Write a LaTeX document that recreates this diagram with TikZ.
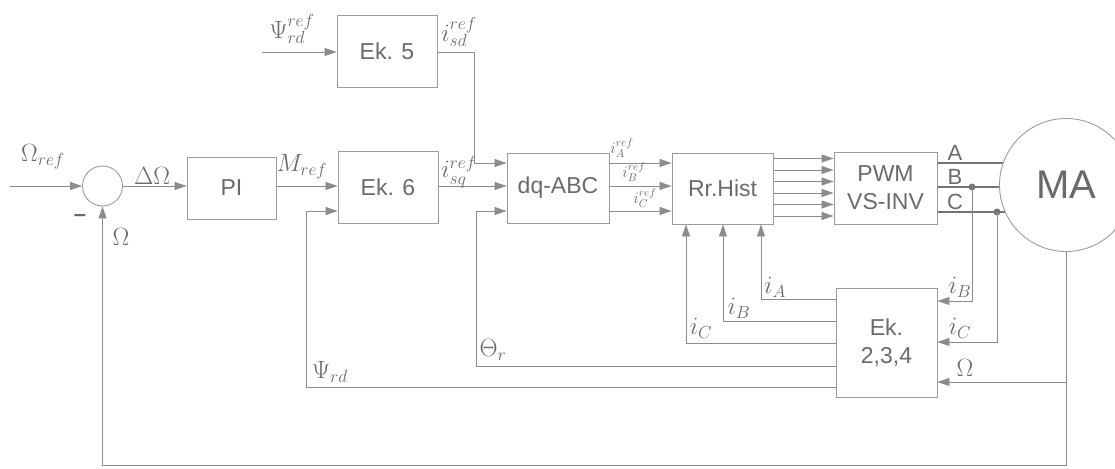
\RequirePackage{fix-cm}
\documentclass[tikz,border=0pt]{standalone}
\usepackage{fontspec}
\setmainfont{Liberation Sans}
\usetikzlibrary{arrows.meta,calc,backgrounds}
\definecolor{ln}{HTML}{8C8C8C}
\definecolor{tx}{HTML}{6A6A6A}
\definecolor{bx}{HTML}{9C9C9C}
\definecolor{ph}{HTML}{747474}
\begin{document}
\begin{tikzpicture}[x=1pt,y=-1pt,
  blk/.style={draw=bx,line width=0.9pt,text=tx,font=\fontsize{23}{28}\selectfont,inner sep=0pt,align=center},
  wire/.style={draw=ln,line width=0.8pt},
  arr/.style={wire,-{Triangle[length=12pt,width=8pt]}},
  lbl/.style={text=tx,font=\fontsize{25}{27}\selectfont,inner sep=0pt},
  sans/.style={text=tx,font=\fontsize{22}{24}\selectfont,inner sep=0pt},
  sml/.style={text=tx,font=\fontsize{16}{17}\selectfont,inner sep=0pt},
  dotn/.style={circle,fill=ph,inner sep=0pt,minimum size=7pt},
  phase/.style={draw=ph,line width=1.8pt}]
\useasboundingbox (0,0) rectangle (1115,468);
% blocks
\node[blk,minimum width=100pt,minimum height=72pt] (ek5) at (387,51) {Ek. 5};
\node[blk,minimum width=100pt,minimum height=72pt] (ek6) at (388,187) {Ek. 6};
\node[blk,minimum width=89pt,minimum height=62pt] (pi) at (231.5,188) {PI};
\node[draw=bx,line width=0.9pt,circle,minimum size=40pt,inner sep=0pt] (sum) at (102.5,186) {};
\node[blk,minimum width=102pt,minimum height=70pt] (dq) at (558,188) {dq-ABC};
\node[blk,minimum width=101pt,minimum height=71pt] (rr) at (722.5,188.5) {Rr.Hist};
\node[blk,minimum width=103pt,minimum height=72pt] (pwm) at (885.5,188) {PWM\\VS-INV};
\node[blk,minimum width=101pt,minimum height=109pt] (ek234) at (886.5,342.5) {Ek.\\2,3,4};
\node[blk,circle,minimum size=133pt,fill=white,font=\fontsize{40}{44}\selectfont] (ma) at (1066,185) {MA};
% free ends
\coordinate (psin) at (262,52);
\coordinate (omin) at (10,186);
% phase lines behind the motor
\begin{scope}[on background layer]
\foreach \y in {163,187,212} \draw[phase] (pwm.east|-0,\y) -- (ma.center|-0,\y);
\end{scope}
\node[dotn] (db) at (972,187) {};
\node[dotn] (dc) at (997,212) {};
% wires
\draw[arr] (psin) -- (psin -| ek5.west);
\draw[arr] (ek5.east |- psin) -- (474,52) -- (474,163) -- (dq.west |- 0,163);
\draw[arr] (omin) -- (sum.west);
\draw[arr] (sum.east) -- (pi.west |- sum.east);
\draw[arr] (pi.east |- sum.east) -- (ek6.west |- sum.east);
\draw[arr] (ek6.east |- sum.east) -- (dq.west |- sum.east);
\draw[arr] (ek234.west |- 0,387) -- (306,387) -- (306,211) -- (ek6.west |- 0,211);
\draw[arr] (ek234.west |- 0,366) -- (476,366) -- (476,211) -- (dq.west |- 0,211);
\foreach \y in {163,186,211} \draw[arr] (dq.east |- 0,\y) -- (rr.west |- 0,\y);
\foreach \y in {158.5,170,181.5,193,204.5,216} \draw[arr] (rr.east |- 0,\y) -- (pwm.west |- 0,\y);
\draw[arr] (db.center) -- (972,301) -- (ek234.east |- 0,301);
\draw[arr] (dc.center) -- (997,342) -- (ek234.east |- 0,342);
\draw[arr] (ma.south) -- (ma.south |- 0,465) -- (sum.south |- 0,465) -- (sum.south);
\draw[arr] (ma.south |- 0,382) -- (ek234.east |- 0,382);
\draw[arr] (ek234.west |- 0,299) -- (761,299) -- (rr.south -| 761,0);
\draw[arr] (ek234.west |- 0,321) -- (723,321) -- (rr.south -| 723,0);
\draw[arr] (ek234.west |- 0,343) -- (686,343) -- (rr.south -| 686,0);
% labels
\node[lbl] (lpsiref) at (292,29) {$\Psi^{ref}_{rd}$};
\node[lbl] (lisd) at (459,32) {$i^{ref}_{sd}$};
\node[lbl] (lomref) at (43,157) {$\Omega_{ref}$};
\node[sans] (lminus) at (80,218) {\textbf{–}};
\node[lbl] (lom) at (121,237) {$\Omega$};
\node[lbl] (ldom) at (152,176) {$\Delta\Omega$};
\node[lbl] (lmref) at (302,167) {$M_{ref}$};
\node[lbl] (lisq) at (459,172) {$i^{ref}_{sq}$};
\node[sml] (liaref) at (622,148) {$i^{ref}_{A}$};
\node[sml] (libref) at (634,172) {$i^{ref}_{B}$};
\node[sml] (licref) at (645,198) {$i^{ref}_{C}$};
\node[sans] (lA) at (955,153) {A};
\node[sans] (lB) at (955,177) {B};
\node[sans] (lC) at (955,202) {C};
\node[lbl] (lia) at (775,287) {$i_A$};
\node[lbl] (lib) at (739,308) {$i_B$};
\node[lbl] (lic) at (701,328) {$i_C$};
\node[lbl] (lib2) at (960,287) {$i_B$};
\node[lbl] (lic2) at (960,328) {$i_C$};
\node[lbl] (lom2) at (965,368) {$\Omega$};
\node[lbl] (ltheta) at (493,350) {$\Theta_r$};
\node[lbl] (lpsird) at (330,372) {$\Psi_{rd}$};
\end{tikzpicture}
\end{document}
